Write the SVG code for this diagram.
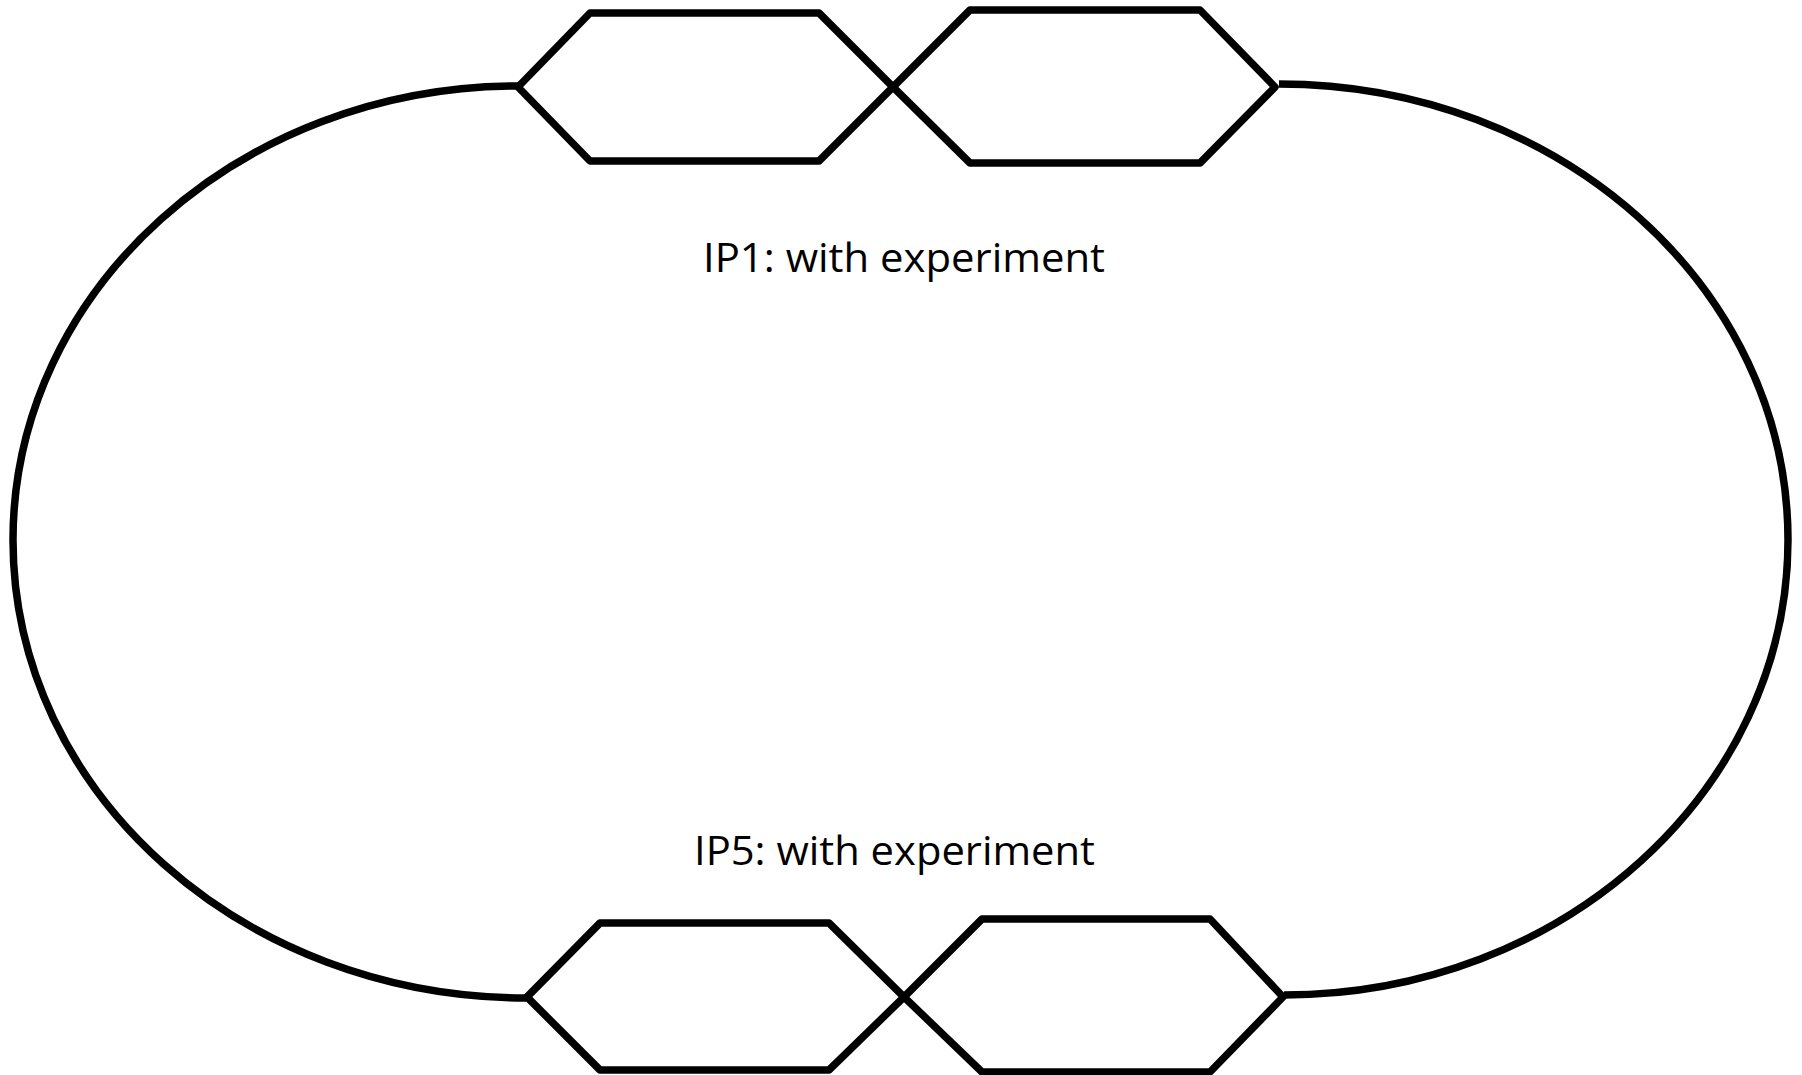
<svg xmlns="http://www.w3.org/2000/svg" width="1802" height="1075" viewBox="0 0 1802 1075">
<style>
.ln{fill:none;stroke:#000;stroke-width:7.5;stroke-linejoin:round;stroke-linecap:butt}
.lbl{font-family:"Open Sans","Liberation Sans",sans-serif;font-size:41px;fill:#000}
</style>
<rect width="1802" height="1075" fill="#fff"/>
<g id="connectors">
<path class="ln" d="M518,86 C239,86 13,290 13,540 C13,793 243,998 526,998"/>
<path class="ln" d="M1279,84 C1560,84 1788,288 1788,540 C1788,790 1563,995 1284,995"/>
</g>
<g id="ip1-left"><polygon class="ln" points="518,87 590,13 819,13 893,87 819,161 590,161"/></g>
<g id="ip1-right"><polygon class="ln" points="893,87 970,10 1200,10 1275,87 1200,163 970,163"/></g>
<g id="ip5-left"><polygon class="ln" points="527,997 600,923 829,923 904,997 829,1070 600,1070"/></g>
<g id="ip5-right"><polygon class="ln" points="904,997 982,919 1210,919 1283,997 1210,1072 982,1072"/></g>
<g id="label-ip1"><text class="lbl" x="703" y="272" textLength="402" lengthAdjust="spacingAndGlyphs">IP1: with experiment</text></g>
<g id="label-ip5"><text class="lbl" x="694" y="865" textLength="401" lengthAdjust="spacingAndGlyphs">IP5: with experiment</text></g>
</svg>
